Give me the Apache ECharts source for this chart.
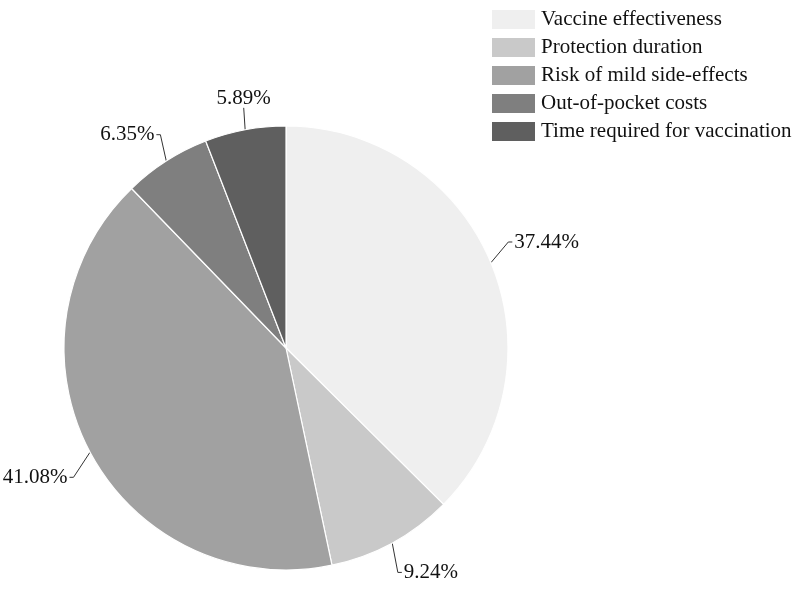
<!DOCTYPE html>
<html><head><meta charset="utf-8">
<script src="https://cdn.jsdelivr.net/npm/echarts@6/dist/echarts.min.js"></script>
<style>html,body{margin:0;padding:0;background:#fff}#c{width:800px;height:591px}</style>
</head><body><div id="c"></div>
<script>
const categories = ["Vaccine effectiveness","Protection duration","Risk of mild side-effects","Out-of-pocket costs","Time required for vaccination"];
const values = [37.44, 9.24, 41.08, 6.35, 5.89];
const colors = ["#efefef","#c9c9c9","#a1a1a1","#7f7f7f","#5f5f5f"];
const chart = echarts.init(document.getElementById('c'), null, {renderer:'canvas'});
chart.setOption({
  animation:false,
  backgroundColor:'#fff',
  legend:{
    orient:'vertical', left:490, top:8, padding:0,
    itemWidth:45, itemHeight:21, itemGap:5,
    icon:'rect',
    data:categories,
    textStyle:{fontFamily:'Liberation Serif', fontSize:21, lineHeight:21, color:'#111'}
  },
  series:[{
    type:'pie',
    center:[286,348], radius:222,
    startAngle:90, clockwise:true,
    data:categories.map((n,i)=>({name:n, value:values[i], itemStyle:{color:colors[i]}})),
    itemStyle:{borderColor:'#fff', borderWidth:1.2},
    label:{formatter:p=>p.value.toFixed(2)+'%', fontFamily:'Liberation Serif', fontSize:21, color:'#111', distanceToLabelLine:1, overflow:'none'},
    labelLine:{length:20, length2:4, lineStyle:{color:'#333', width:1}},
    labelLayout:function(params){
      const pts = params.labelLinePoints;
      if(!pts) return {};
      const p0 = pts[0], q = pts[1];
      let rx = q[0]-p0[0], ry = q[1]-p0[1];
      let L = Math.hypot(rx,ry) || 1; rx/=L; ry/=L;
      let dx = rx*0.35, dy = ry; const n = Math.hypot(dx,dy); dx/=n; dy/=n;
      if (Math.abs(rx) < 0.25 && ry < 0) {
        const p1 = [p0[0]+dx*22, p0[1]+dy*22];
        return {x:p1[0], y:p1[1]+1, align:'center', verticalAlign:'bottom',
          labelLinePoints:[p0, p1, p1]};
      }
      const len = ry > 0 ? 30 : 27;
      const p1 = [p0[0]+dx*len, p0[1]+dy*len];
      const s = rx >= 0 ? 1 : -1;
      const p2 = [p1[0]+s*4, p1[1]];
      return {x:p2[0]+s*2, y:p2[1], align: s>0?'left':'right', verticalAlign:'middle',
        labelLinePoints:[p0, p1, p2]};
    },
    emphasis:{disabled:true}
  }]
});
</script></body></html>
